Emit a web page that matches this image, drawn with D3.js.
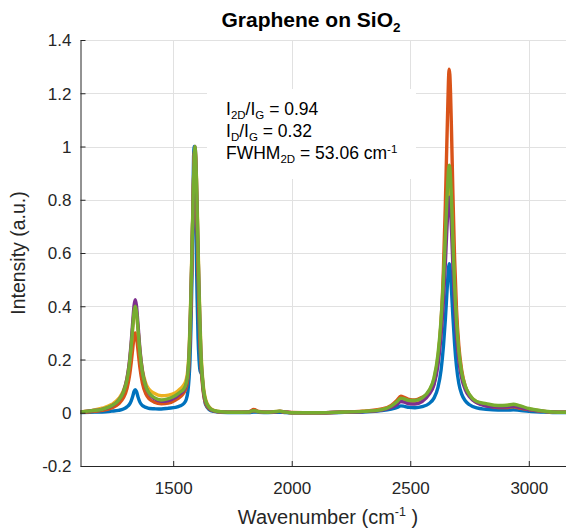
<!DOCTYPE html>
<html><head><meta charset="utf-8">
<script src="https://cdn.jsdelivr.net/npm/d3@7"></script>
<style>body{margin:0;background:#fff}svg{display:block}</style>
</head><body>
<svg id="c" width="566" height="530"></svg>
<script>
const wavenumber = [1109,1150,1200,1240,1270,1290,1305,1315,1323,1330,1335,1340,1345,1352,1360,1370,1385,1400,1420,1450,1480,1510,1530,1545,1555,1562,1567,1571,1575,1579,1583,1586,1589,1592,1595,1598,1601,1605,1609,1613,1617,1622,1628,1637,1652,1672,1700,1760,1820,1840,1860,1900,1950,1970,2000,2100,2200,2300,2380,2420,2445,2460,2475,2495,2520,2550,2580,2600,2617,2630,2640,2648,2654,2658,2661,2664,2667,2670,2674,2680,2687,2695,2705,2717,2732,2750,2780,2820,2870,2910,2935,2960,3000,3050,3100,3157];

const spectrum1 = [0.001,0.002,0.003,0.006,0.009,0.014,0.022,0.031,0.045,0.064,0.080,0.087,0.080,0.058,0.039,0.027,0.020,0.016,0.015,0.014,0.017,0.020,0.026,0.035,0.050,0.080,0.13,0.20,0.32,0.50,0.78,0.96,1.00,0.93,0.75,0.58,0.43,0.28,0.20,0.16,0.15,0.14,0.08,0.03,0.012,0.005,0.002,0.001,0.001,0.003,0.002,0.001,0.002,0.001,0.000,0.000,0.001,0.003,0.008,0.014,0.020,0.026,0.024,0.020,0.019,0.023,0.035,0.055,0.095,0.16,0.25,0.35,0.44,0.50,0.54,0.56,0.55,0.52,0.46,0.36,0.26,0.175,0.11,0.07,0.045,0.030,0.018,0.013,0.010,0.010,0.011,0.009,0.005,0.003,0.001,0.001];

const spectrum2 = [0.002,0.004,0.009,0.018,0.034,0.056,0.091,0.135,0.189,0.247,0.285,0.300,0.285,0.231,0.167,0.112,0.070,0.051,0.040,0.034,0.036,0.048,0.060,0.075,0.095,0.13,0.19,0.28,0.41,0.57,0.75,0.88,0.97,0.99,0.93,0.82,0.69,0.52,0.37,0.26,0.18,0.12,0.07,0.035,0.015,0.007,0.003,0.002,0.004,0.012,0.005,0.002,0.005,0.003,0.001,0.000,0.002,0.006,0.014,0.028,0.048,0.062,0.058,0.050,0.048,0.058,0.075,0.11,0.20,0.34,0.54,0.78,1.00,1.14,1.24,1.29,1.27,1.20,1.06,0.82,0.58,0.39,0.25,0.16,0.10,0.065,0.038,0.028,0.020,0.020,0.022,0.018,0.012,0.006,0.003,0.002];

const spectrum3 = [0.003,0.008,0.017,0.031,0.053,0.083,0.128,0.185,0.253,0.328,0.376,0.395,0.376,0.309,0.229,0.161,0.109,0.086,0.073,0.064,0.066,0.075,0.090,0.105,0.125,0.165,0.235,0.335,0.465,0.615,0.77,0.88,0.96,0.99,0.96,0.89,0.79,0.63,0.48,0.35,0.24,0.155,0.095,0.05,0.022,0.009,0.004,0.002,0.003,0.007,0.004,0.002,0.006,0.003,0.000,0.000,0.002,0.005,0.012,0.024,0.040,0.052,0.050,0.044,0.043,0.053,0.082,0.125,0.21,0.335,0.475,0.63,0.75,0.82,0.865,0.88,0.87,0.835,0.76,0.61,0.46,0.33,0.22,0.145,0.097,0.066,0.042,0.029,0.025,0.027,0.030,0.025,0.014,0.007,0.003,0.002];

const spectrum4 = [0.003,0.007,0.013,0.025,0.047,0.078,0.128,0.189,0.266,0.349,0.403,0.425,0.403,0.327,0.235,0.157,0.097,0.069,0.053,0.043,0.046,0.058,0.072,0.085,0.105,0.145,0.21,0.31,0.44,0.59,0.75,0.87,0.96,1.00,0.96,0.87,0.76,0.60,0.45,0.32,0.21,0.135,0.08,0.042,0.018,0.007,0.003,0.002,0.003,0.007,0.004,0.002,0.005,0.003,0.000,0.000,0.002,0.004,0.010,0.020,0.032,0.042,0.040,0.034,0.033,0.042,0.07,0.105,0.18,0.29,0.42,0.56,0.68,0.75,0.79,0.81,0.80,0.765,0.69,0.55,0.41,0.29,0.195,0.13,0.087,0.06,0.038,0.025,0.021,0.022,0.025,0.020,0.012,0.006,0.003,0.002];

const spectrum5 = [0.003,0.007,0.013,0.026,0.047,0.077,0.123,0.180,0.253,0.330,0.380,0.400,0.380,0.310,0.224,0.152,0.097,0.072,0.057,0.048,0.053,0.065,0.078,0.090,0.110,0.150,0.220,0.320,0.450,0.600,0.760,0.870,0.960,1.000,0.960,0.880,0.770,0.610,0.460,0.330,0.220,0.140,0.085,0.045,0.020,0.008,0.004,0.002,0.003,0.008,0.004,0.002,0.006,0.003,0.000,0.000,0.002,0.005,0.012,0.025,0.042,0.055,0.052,0.046,0.046,0.056,0.085,0.13,0.22,0.35,0.50,0.66,0.79,0.86,0.91,0.93,0.92,0.88,0.80,0.64,0.48,0.345,0.23,0.15,0.10,0.068,0.042,0.034,0.027,0.028,0.032,0.027,0.016,0.008,0.003,0.002];

const seriesColors = ["#0072BD","#D95319","#EDB120","#7E2F8E","#77AC30"];
const xTicks = [1500,2000,2500,3000];
const yTicks = [-0.2,0,0.2,0.4,0.6,0.8,1,1.2,1.4];
const yTickLabels = ["-0.2","0","0.2","0.4","0.6","0.8","1","1.2","1.4"];

const allSeries = [spectrum1,spectrum2,spectrum3,spectrum4,spectrum5];

const FONT = "'Liberation Sans', Arial, Helvetica, sans-serif";
const INK = "#262626";
const L = 80.5, R = 566, T = 40, B = 466;

const svg = d3.select("#c");
const x = d3.scaleLinear().domain([1109, 3157]).range([L, R]);
const y = d3.scaleLinear().domain([-0.2, 1.4]).range([B, T]);

svg.append("rect").attr("width",566).attr("height",530).attr("fill","#fff");

// grid
const grid = svg.append("g").attr("stroke","#e1e1e1").attr("stroke-width",1);
grid.selectAll("line.v").data(xTicks).join("line")
  .attr("x1",d=>Math.round(x(d))+0.5).attr("x2",d=>Math.round(x(d))+0.5)
  .attr("y1",T).attr("y2",B);
grid.selectAll("line.h").data(yTicks).join("line")
  .attr("y1",d=>Math.round(y(d))+0.5).attr("y2",d=>Math.round(y(d))+0.5)
  .attr("x1",L).attr("x2",R);

// annotation background box
svg.append("rect").attr("x",207).attr("y",89).attr("width",209).attr("height",90).attr("fill","#fff");

// spectra
svg.append("clipPath").attr("id","clip").append("rect")
  .attr("x",L).attr("y",T-5).attr("width",R-L+5).attr("height",B-T+5);
const line = d3.line().x(d=>x(d[0])).y(d=>y(d[1])).curve(d3.curveMonotoneX);
const gl = svg.append("g").attr("clip-path","url(#clip)");
allSeries.forEach((s,i)=>{
  gl.append("path").datum(wavenumber.map((w,j)=>[w,s[j]]))
    .attr("d",line).attr("fill","none").attr("stroke",seriesColors[i])
    .attr("stroke-width",3.4).attr("stroke-linejoin","round").attr("stroke-linecap","round");
});

// axes
const xAxis = d3.axisBottom(x).tickValues(xTicks).tickFormat(d3.format("d"))
  .tickSizeInner(-5).tickSizeOuter(0).tickPadding(16);
const yAxis = d3.axisLeft(y).tickValues(yTicks).tickFormat((d,i)=>yTickLabels[i])
  .tickSizeInner(-5).tickSizeOuter(0).tickPadding(9);
const gx = svg.append("g").attr("transform",`translate(0,${B})`).call(xAxis);
const gy = svg.append("g").attr("transform",`translate(${L},0)`).call(yAxis);
[gx,gy].forEach(g=>{
  g.select(".domain").attr("stroke",INK).attr("stroke-width",1);
  g.selectAll(".tick line").attr("stroke",INK);
  g.selectAll(".tick text").attr("fill",INK).attr("font-family",FONT).attr("font-size",17);
});
gy.selectAll(".tick text").attr("dy","0.35em");

// title
const title = svg.append("text").attr("x",311).attr("y",27).attr("text-anchor","middle")
  .attr("font-family",FONT).attr("font-size",21).attr("font-weight","bold").attr("fill","#000");
title.append("tspan").text("Graphene on SiO");
title.append("tspan").attr("font-size",13.5).attr("dy",5).text("2");

// x label
const xl = svg.append("text").attr("x",328).attr("y",524).attr("text-anchor","middle")
  .attr("font-family",FONT).attr("font-size",20).attr("fill",INK);
xl.append("tspan").text("Wavenumber (cm");
xl.append("tspan").attr("font-size",12.5).attr("dy",-8).text("-1");
xl.append("tspan").attr("dy",8).text(" )");

// y label
svg.append("text").attr("transform",`translate(25,${(T+B)/2}) rotate(-90)`)
  .attr("text-anchor","middle").attr("font-family",FONT).attr("font-size",19.5).attr("fill",INK)
  .text("Intensity (a.u.)");

// annotation
const ann = svg.append("g").attr("font-family",FONT).attr("font-size",17.5).attr("fill","#000");
const a1 = ann.append("text").attr("x",226).attr("y",115);
a1.append("tspan").text("I");
a1.append("tspan").attr("font-size",11.5).attr("dy",4).text("2D");
a1.append("tspan").attr("dy",-4).text("/I");
a1.append("tspan").attr("font-size",11.5).attr("dy",4).text("G");
a1.append("tspan").attr("dy",-4).text(" = 0.94");
const a2 = ann.append("text").attr("x",226).attr("y",137);
a2.append("tspan").text("I");
a2.append("tspan").attr("font-size",11.5).attr("dy",4).text("D");
a2.append("tspan").attr("dy",-4).text("/I");
a2.append("tspan").attr("font-size",11.5).attr("dy",4).text("G");
a2.append("tspan").attr("dy",-4).text(" = 0.32");
const a3 = ann.append("text").attr("x",226).attr("y",159);
a3.append("tspan").text("FWHM");
a3.append("tspan").attr("font-size",11.5).attr("dy",4).text("2D");
a3.append("tspan").attr("dy",-4).text(" = 53.06 cm");
a3.append("tspan").attr("font-size",11.5).attr("dy",-6).text("-1");
</script>
</body></html>
